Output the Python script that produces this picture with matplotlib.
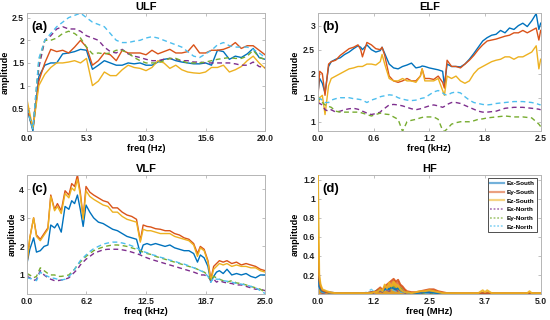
import numpy as np
import matplotlib
matplotlib.use("Agg")
import matplotlib.pyplot as plt
from matplotlib.lines import Line2D

plt.rcParams['font.family'] = ['Liberation Sans', 'DejaVu Sans']
plt.rcParams['font.weight'] = 'bold'

series_names = ["Ex-South", "Ey-South", "Ez-South", "Ex-North", "Ey-North", "Ez-North"]
colors = ["#0072BD", "#D95319", "#EDB120", "#7E2F8E", "#77AC30", "#4DBEEE"]

# ---------------- ULF (Hz) ----------------
ulf_freq = np.linspace(0, 20, 41)
ulf_ex_s = [0.5, 0.0, 1.2, 1.45, 1.5, 1.5, 1.7, 1.72, 1.75, 1.8, 1.78, 1.36, 1.45, 1.55, 1.5, 1.45, 1.45, 1.5, 1.48, 1.5,
            1.45, 1.45, 1.52, 1.58, 1.6, 1.55, 1.52, 1.5, 1.48, 1.48, 1.5, 1.45, 1.78, 1.75, 1.58, 1.65, 1.62, 1.7, 1.82, 1.62, 1.58]
ulf_ey_s = [0.55, 0.05, 1.1, 1.5, 1.8, 1.75, 1.78, 1.72, 1.85, 2.0, 1.85, 1.45, 1.55, 1.72, 1.68, 1.55, 1.78, 1.72, 1.72, 1.72,
            1.68, 1.78, 1.7, 1.75, 1.8, 1.72, 1.72, 1.75, 1.9, 1.72, 1.72, 1.78, 1.78, 1.8, 1.85, 1.95, 1.82, 1.88, 1.88, 1.78, 1.68]
ulf_ez_s = [0.7, 0.05, 1.0, 1.25, 1.4, 1.5, 1.5, 1.52, 1.55, 1.5, 1.6, 1.0, 1.1, 1.3, 1.22, 1.22, 1.35, 1.45, 1.4, 1.38,
            1.33, 1.4, 1.55, 1.5, 1.38, 1.45, 1.35, 1.3, 1.28, 1.27, 1.3, 1.4, 1.4, 1.45, 1.3, 1.35, 1.42, 1.55, 1.65, 1.5, 1.38]
ulf_ex_n = [0.5, 0.05, 1.4, 2.0, 2.1, 2.25, 2.3, 2.25, 2.25, 2.2, 2.1, 2.05, 2.0, 1.85, 1.75, 1.72, 1.8, 1.7, 1.65, 1.62,
            1.58, 1.55, 1.55, 1.58, 1.6, 1.58, 1.55, 1.55, 1.52, 1.52, 1.5, 1.5, 1.5, 1.5, 1.5, 1.48, 1.45, 1.45, 1.52, 1.42, 1.4]
ulf_ey_n = [0.5, 0.05, 1.55, 2.0, 2.0, 2.05, 2.15, 2.2, 2.15, 2.05, 1.85, 1.7, 1.72, 1.7, 1.72, 1.78, 1.78, 1.72, 1.62, 1.55,
            1.5, 1.5, 1.5, 1.55, 1.6, 1.6, 1.55, 1.5, 1.5, 1.5, 1.52, 1.55, 1.58, 1.6, 1.62, 1.6, 1.6, 1.65, 1.78, 1.62, 1.58]
ulf_ez_n = [0.5, 0.05, 1.6, 2.0, 2.15, 2.3, 2.4, 2.5, 2.55, 2.6, 2.5, 2.4, 2.35, 2.3, 2.15, 2.0, 1.95, 1.95, 1.98, 2.0,
            2.05, 2.08, 2.05, 2.0, 1.95, 1.9, 1.85, 1.75, 1.65, 1.62, 1.7, 1.78, 1.9, 1.95, 1.88, 1.85, 1.85, 1.85, 1.8, 1.72, 1.62]
ulf_xticklabels = ["0.0", "5.3", "10.3", "15.6", "20.0"]

# ---------------- ELF (kHz) ----------------
elf_freq = [0, 0.02, 0.05, 0.08, 0.12, 0.15, 0.2, 0.25, 0.3, 0.35, 0.4, 0.45, 0.48, 0.5, 0.55, 0.6, 0.65, 0.7, 0.72, 0.75,
            0.8, 0.85, 0.9, 0.95, 1.0, 1.05, 1.1, 1.15, 1.17, 1.2, 1.25, 1.3, 1.35, 1.4, 1.42, 1.45, 1.5, 1.55, 1.6, 1.65,
            1.7, 1.75, 1.8, 1.85, 1.9, 1.95, 2.0, 2.05, 2.1, 2.15, 2.2, 2.25, 2.3, 2.35, 2.4, 2.45, 2.48, 2.5]
elf_ex_s = [1.6, 1.9, 1.8, 1.6, 2.15, 2.25, 2.3, 2.33, 2.4, 2.45, 2.52, 2.58, 2.55, 2.5, 2.6, 2.5, 2.45, 2.48, 2.55, 2.42,
            2.2, 2.12, 2.1, 2.15, 2.18, 2.22, 2.12, 2.14, 2.16, 2.15, 2.12, 2.1, 2.08, 2.05, 1.75, 2.2, 2.15, 2.15, 2.14, 2.2,
            2.3, 2.42, 2.55, 2.68, 2.75, 2.8, 2.82, 2.9, 2.85, 2.95, 2.92, 3.0, 3.05, 2.98, 3.1, 3.25, 2.92, 3.05]
elf_ey_s = [1.5, 2.05, 2.0, 1.55, 2.2, 2.25, 2.28, 2.38, 2.45, 2.52, 2.55, 2.6, 2.5, 2.35, 2.65, 2.6, 2.52, 2.5, 2.55, 2.38,
            1.95, 1.85, 1.82, 1.85, 1.9, 1.85, 1.85, 1.95, 2.1, 1.9, 1.9, 1.88, 1.95, 1.82, 1.7, 2.28, 2.15, 2.15, 2.12, 2.2,
            2.28, 2.38, 2.5, 2.6, 2.68, 2.7, 2.72, 2.75, 2.78, 2.8, 2.85, 2.85, 2.9, 2.85, 2.9, 2.95, 2.7, 2.9]
elf_ez_s = [1.3, 1.5, 1.55, 1.15, 1.75, 1.9, 1.95, 2.0, 2.05, 2.1, 2.12, 2.15, 2.15, 2.15, 2.2, 2.2, 2.18, 2.25, 2.4, 2.2,
            1.9, 1.85, 1.85, 1.9, 1.85, 1.85, 1.82, 1.95, 2.1, 1.85, 1.85, 1.85, 1.9, 1.65, 1.55, 1.95, 1.9, 1.95, 1.85, 1.8,
            1.85, 2.0, 2.1, 2.15, 2.2, 2.25, 2.28, 2.3, 2.35, 2.35, 2.3, 2.35, 2.35, 2.4, 2.45, 2.58, 2.1, 2.3]
elf_ex_n = [1.4, 1.38, 1.35, 1.25, 1.22, 1.25, 1.2, 1.22, 1.25, 1.27, 1.28, 1.26, 1.24, 1.22, 1.18, 1.15, 1.17, 1.2, 1.24, 1.28,
            1.35, 1.36, 1.35, 1.33, 1.3, 1.27, 1.25, 1.27, 1.28, 1.3, 1.33, 1.35, 1.33, 1.3, 1.32, 1.36, 1.4, 1.4, 1.38, 1.34,
            1.3, 1.26, 1.22, 1.2, 1.2, 1.21, 1.22, 1.25, 1.28, 1.29, 1.3, 1.3, 1.3, 1.29, 1.28, 1.27, 1.26, 1.25]
elf_ey_n = [1.55, 1.45, 1.4, 1.35, 1.32, 1.3, 1.22, 1.2, 1.2, 1.2, 1.2, 1.2, 1.19, 1.18, 1.15, 1.12, 1.15, 1.18, 1.17, 1.16,
            1.15, 1.1, 1.05, 0.8, 1.0, 1.03, 1.05, 1.08, 1.09, 1.1, 1.1, 1.1, 1.05, 0.82, 0.8, 0.85, 0.95, 0.98, 1.0, 1.0,
            1.0, 1.02, 1.05, 1.06, 1.08, 1.09, 1.1, 1.11, 1.12, 1.11, 1.1, 1.1, 1.1, 1.09, 1.08, 1.0, 0.95, 0.9]
elf_ez_n = [1.5, 1.48, 1.45, 1.4, 1.4, 1.45, 1.48, 1.5, 1.5, 1.5, 1.48, 1.47, 1.46, 1.45, 1.4, 1.45, 1.48, 1.52, 1.53, 1.54,
            1.56, 1.55, 1.5, 1.47, 1.45, 1.44, 1.45, 1.48, 1.49, 1.5, 1.56, 1.62, 1.65, 1.6, 1.57, 1.55, 1.6, 1.62, 1.6, 1.52,
            1.45, 1.4, 1.38, 1.36, 1.35, 1.36, 1.38, 1.39, 1.4, 1.41, 1.42, 1.42, 1.42, 1.41, 1.4, 1.38, 1.36, 1.35]
elf_xticklabels = ["0.0", "0.6", "1.2", "1.8", "2.5"]

# ---------------- VLF (kHz) ----------------
vlf_freq = [0, 0.3, 0.7, 1.0, 1.4, 1.8, 2.2, 2.5, 2.9, 3.2, 3.6, 4.0, 4.4, 4.7, 5.0, 5.3, 5.6, 5.9, 6.2, 6.6,
            7.0, 7.5, 8.0, 8.5, 9.0, 9.5, 10.0, 10.5, 11.0, 11.5, 11.9, 12.2, 12.6, 13.0, 13.5, 14.0, 14.5, 15.0, 15.5, 16.0,
            16.5, 17.0, 17.5, 17.9, 18.2, 18.6, 19.0, 19.3, 19.6, 19.9, 20.2, 20.6, 21.0, 21.5, 22.0, 22.5, 23.0, 23.5, 24.0, 24.5,
            25.0]
vlf_ex_s = [1.4, 1.9, 2.3, 1.8, 1.85, 2.0, 2.05, 2.75, 2.65, 2.8, 2.5, 3.4, 3.3, 3.6, 3.5, 3.8, 3.3, 2.7, 3.45, 3.2,
            3.0, 2.85, 2.8, 2.7, 2.6, 2.55, 2.45, 2.35, 2.3, 2.25, 1.75, 2.05, 2.1, 2.05, 2.1, 2.05, 2.0, 2.05, 1.95, 1.9,
            1.85, 1.85, 1.75, 1.45, 1.7, 1.6, 1.3, 0.75, 0.95, 1.1, 1.15, 1.05, 1.2, 1.0, 1.05, 1.0, 1.05, 0.95, 0.9, 1.0,
            1.0]
vlf_ey_s = [1.4, 2.3, 3.0, 2.4, 2.25, 2.45, 2.65, 3.8, 3.3, 3.5, 3.25, 3.95, 3.8, 4.2, 4.1, 4.5, 3.9, 3.0, 4.1, 3.9,
            3.8, 3.7, 3.6, 3.55, 3.35, 3.35, 3.2, 3.1, 3.05, 2.95, 2.2, 2.75, 2.7, 2.68, 2.62, 2.6, 2.55, 2.55, 2.45, 2.4,
            2.3, 2.25, 2.1, 1.75, 2.0, 1.9, 1.5, 0.85, 1.3, 1.4, 1.5, 1.45, 1.5, 1.4, 1.45, 1.35, 1.4, 1.35, 1.3, 1.2,
            1.15]
vlf_ez_s = [1.4, 2.3, 3.0, 2.35, 2.2, 2.4, 2.6, 3.75, 3.25, 3.4, 3.15, 3.85, 3.7, 4.05, 3.95, 4.35, 3.8, 2.95, 3.95, 3.75,
            3.65, 3.55, 3.45, 3.4, 3.2, 3.2, 3.05, 2.95, 2.9, 2.85, 2.15, 2.6, 2.55, 2.55, 2.5, 2.45, 2.45, 2.45, 2.35, 2.3,
            2.25, 2.2, 2.05, 1.65, 1.95, 1.85, 1.45, 0.8, 1.2, 1.3, 1.4, 1.35, 1.4, 1.3, 1.35, 1.3, 1.3, 1.25, 1.25, 1.15,
            1.1]
vlf_ex_n = [0.95, 0.9, 0.8, 0.85, 1.15, 1.0, 0.9, 0.85, 0.8, 0.8, 0.82, 0.85, 0.9, 1.0, 1.1, 1.2, 1.35, 1.45, 1.55, 1.65,
            1.75, 1.82, 1.88, 1.9, 1.9, 1.9, 1.88, 1.85, 1.8, 1.75, 1.7, 1.65, 1.6, 1.55, 1.5, 1.45, 1.4, 1.35, 1.3, 1.25,
            1.2, 1.15, 1.1, 1.05, 1.0, 1.0, 0.95, 0.8, 0.85, 0.75, 0.8, 0.75, 0.72, 0.7, 0.65, 0.65, 0.6, 0.55, 0.5, 0.5,
            0.45]
vlf_ey_n = [1.05, 1.0, 0.9, 0.95, 1.25, 1.15, 1.05, 1.0, 1.0, 0.95, 0.95, 0.97, 1.0, 1.1, 1.2, 1.35, 1.45, 1.55, 1.65, 1.75,
            1.85, 1.92, 1.98, 2.02, 2.05, 2.05, 2.03, 2.0, 1.95, 1.9, 1.85, 1.8, 1.75, 1.72, 1.65, 1.6, 1.55, 1.5, 1.45, 1.4,
            1.35, 1.3, 1.25, 1.2, 1.15, 1.1, 1.0, 0.8, 0.95, 0.9, 0.85, 0.8, 0.75, 0.8, 0.72, 0.7, 0.65, 0.6, 0.55, 0.5,
            0.4]
vlf_ez_n = [0.9, 0.88, 0.85, 0.8, 1.1, 1.0, 0.95, 0.9, 0.88, 0.85, 0.82, 0.85, 0.95, 1.05, 1.2, 1.35, 1.5, 1.6, 1.7, 1.82,
            1.92, 2.0, 2.08, 2.12, 2.15, 2.15, 2.12, 2.08, 2.02, 1.95, 1.88, 1.82, 1.78, 1.72, 1.68, 1.62, 1.58, 1.52, 1.48, 1.42,
            1.38, 1.32, 1.25, 1.22, 1.15, 1.1, 0.95, 0.75, 0.9, 0.85, 0.85, 0.8, 0.78, 0.75, 0.7, 0.68, 0.65, 0.6, 0.55, 0.45,
            0.35]
vlf_xticklabels = ["0.0", "6.2", "12.5", "18.7", "25.0"]

# ---------------- HF (MHz) ----------------
hf_freq = [0, 0.03, 0.06, 0.1, 0.2, 0.3, 0.4, 0.5, 0.6, 0.7, 0.8, 0.9, 1.0, 1.1, 1.2, 1.25, 1.3, 1.35, 1.4, 1.45,
           1.5, 1.55, 1.6, 1.65, 1.7, 1.75, 1.8, 1.85, 1.9, 1.95, 2.0, 2.1, 2.2, 2.3, 2.4, 2.5, 2.6, 2.7, 2.8, 2.9,
           3.0, 3.2, 3.4, 3.6, 3.7, 3.75, 3.8, 3.9, 4.0, 4.2, 4.4, 4.6, 4.7, 4.75, 4.8, 5.0]
hf_ex_s = [0.45, 0.08, 0.05, 0.03, 0.02, 0.015, 0.01, 0.01, 0.01, 0.01, 0.01, 0.01, 0.01, 0.01, 0.02, 0.02, 0.03, 0.04, 0.05, 0.03,
           0.05, 0.06, 0.05, 0.07, 0.06, 0.05, 0.06, 0.04, 0.03, 0.02, 0.02, 0.01, 0.01, 0.015, 0.02, 0.02, 0.015, 0.01, 0.01, 0.01,
           0.01, 0.005, 0.005, 0.005, 0.008, 0.005, 0.005, 0.005, 0.005, 0.005, 0.005, 0.005, 0.005, 0.005, 0.005, 0.005]
hf_ey_s = [0.6, 0.15, 0.08, 0.04, 0.02, 0.015, 0.01, 0.01, 0.01, 0.01, 0.01, 0.01, 0.01, 0.01, 0.02, 0.02, 0.03, 0.05, 0.07, 0.04,
           0.08, 0.1, 0.12, 0.14, 0.16, 0.13, 0.15, 0.1, 0.08, 0.05, 0.03, 0.02, 0.02, 0.03, 0.04, 0.05, 0.05, 0.03, 0.02, 0.01,
           0.01, 0.01, 0.01, 0.01, 0.01, 0.01, 0.01, 0.01, 0.01, 0.01, 0.01, 0.01, 0.01, 0.01, 0.01, 0.01]
hf_ez_s = [1.3, 0.2, 0.1, 0.05, 0.03, 0.015, 0.01, 0.01, 0.01, 0.01, 0.01, 0.01, 0.01, 0.01, 0.01, 0.02, 0.02, 0.03, 0.05, 0.03,
           0.1, 0.06, 0.12, 0.08, 0.13, 0.1, 0.09, 0.05, 0.03, 0.02, 0.02, 0.01, 0.02, 0.03, 0.03, 0.04, 0.03, 0.02, 0.01, 0.01,
           0.01, 0.01, 0.01, 0.01, 0.04, 0.02, 0.04, 0.01, 0.01, 0.01, 0.01, 0.01, 0.01, 0.03, 0.01, 0.01]
hf_ex_n = [0.1, 0.04, 0.02, 0.01, 0.01, 0.005, 0.005, 0.005, 0.005, 0.005, 0.005, 0.005, 0.005, 0.005, 0.01, 0.01, 0.02, 0.02, 0.03, 0.02,
           0.03, 0.04, 0.03, 0.04, 0.05, 0.04, 0.03, 0.02, 0.02, 0.01, 0.01, 0.01, 0.005, 0.01, 0.01, 0.01, 0.01, 0.005, 0.005, 0.005,
           0.005, 0.005, 0.005, 0.005, 0.005, 0.005, 0.005, 0.005, 0.005, 0.005, 0.005, 0.005, 0.005, 0.005, 0.005, 0.005]
hf_ey_n = [0.12, 0.05, 0.03, 0.02, 0.01, 0.01, 0.005, 0.005, 0.005, 0.005, 0.005, 0.005, 0.005, 0.01, 0.01, 0.02, 0.03, 0.04, 0.05, 0.04,
           0.05, 0.06, 0.05, 0.07, 0.08, 0.06, 0.08, 0.07, 0.05, 0.03, 0.02, 0.01, 0.01, 0.01, 0.01, 0.01, 0.01, 0.005, 0.005, 0.005,
           0.005, 0.005, 0.005, 0.005, 0.005, 0.005, 0.005, 0.005, 0.005, 0.005, 0.005, 0.005, 0.005, 0.005, 0.005, 0.005]
hf_ez_n = [0.2, 0.06, 0.03, 0.02, 0.01, 0.01, 0.005, 0.005, 0.005, 0.005, 0.005, 0.005, 0.01, 0.02, 0.05, 0.03, 0.04, 0.05, 0.04, 0.03,
           0.04, 0.05, 0.04, 0.05, 0.04, 0.03, 0.03, 0.02, 0.02, 0.01, 0.01, 0.01, 0.01, 0.01, 0.01, 0.01, 0.005, 0.005, 0.005, 0.005,
           0.005, 0.005, 0.005, 0.005, 0.005, 0.005, 0.005, 0.005, 0.005, 0.005, 0.005, 0.005, 0.005, 0.005, 0.005, 0.005]
hf_xticklabels = ["0.0", "1.2", "2.5", "3.7", "5.0"]

panels = [
    dict(title="ULF", letter="(a)", x=ulf_freq, ys=[ulf_ex_s, ulf_ey_s, ulf_ez_s, ulf_ex_n, ulf_ey_n, ulf_ez_n],
         xmax=20, ylim=(0, 2.6), yticks=[0.5, 1, 1.5, 2, 2.5], ytl=["0.5", "1", "1.5", "2", "2.5"],
         xtl=ulf_xticklabels, xlabel="freq (Hz)", rect=[0.049, 0.591, 0.433, 0.368]),
    dict(title="ELF", letter="(b)", x=elf_freq, ys=[elf_ex_s, elf_ey_s, elf_ez_s, elf_ex_n, elf_ey_n, elf_ez_n],
         xmax=2.5, ylim=(0.81, 3.26), yticks=[1, 1.5, 2, 2.5, 3], ytl=["1", "1.5", "2", "2.5", "3"],
         xtl=elf_xticklabels, xlabel="freq (kHz)", rect=[0.578, 0.591, 0.405, 0.368]),
    dict(title="VLF", letter="(c)", x=vlf_freq, ys=[vlf_ex_s, vlf_ey_s, vlf_ez_s, vlf_ex_n, vlf_ey_n, vlf_ez_n],
         xmax=25, ylim=(0.33, 4.5), yticks=[1, 2, 3, 4], ytl=["1", "2", "3", "4"],
         xtl=vlf_xticklabels, xlabel="freq (kHz)", rect=[0.049, 0.081, 0.433, 0.372]),
    dict(title="HF", letter="(d)", x=hf_freq, ys=[hf_ex_s, hf_ey_s, hf_ez_s, hf_ex_n, hf_ey_n, hf_ez_n],
         xmax=5, ylim=(0, 1.25), yticks=[0.2, 0.4, 0.6, 0.8, 1, 1.2], ytl=["0.2", "0.4", "0.6", "0.8", "1", "1.2"],
         xtl=hf_xticklabels, xlabel="freq (MHz)", rect=[0.578, 0.081, 0.405, 0.372]),
]

fig = plt.figure(figsize=(5.5, 3.2), dpi=100)
frame_col = "#b5b5b5"
for p in panels:
    ax = fig.add_axes(p["rect"])
    hf = p["title"] == "HF"
    for i, (y, c) in enumerate(zip(p["ys"], colors)):
        if i < 3:
            if hf:
                ax.fill_between(p["x"], 0, y, color=c, alpha=0.75, lw=0)
                ax.plot(p["x"], y, color=c, lw=1.4, alpha=0.9, zorder=3)
            else:
                ax.plot(p["x"], y, color=c, lw=1.0)
        else:
            ax.plot(p["x"], y, color=c, lw=1.0, ls=(0, (3.5, 2.5)), alpha=0.8 if hf else 1.0)
    ax.set_xlim(0, p["xmax"])
    ax.set_ylim(*p["ylim"])
    ax.set_xticks(np.linspace(0, p["xmax"], 5))
    ax.set_xticklabels(p["xtl"])
    ax.set_yticks(p["yticks"])
    ax.set_yticklabels(p["ytl"])
    ax.tick_params(direction="in", length=2.5, width=0.6, color=frame_col, labelsize=6.2,
                   top=True, right=True, pad=2, labelcolor="#222222")
    for s in ax.spines.values():
        s.set_color(frame_col)
        s.set_linewidth(0.7)
    for lab in ax.get_xticklabels() + ax.get_yticklabels():
        lab.set_fontweight("bold")
    ax.set_title(p["title"], fontsize=8, fontweight="bold", pad=2)
    ax.set_xlabel(p["xlabel"], fontsize=6.8, fontweight="bold", labelpad=1)
    ax.set_ylabel("amplitude", fontsize=6.6, fontweight="bold", labelpad=2)
    ax.text(0.018, 0.885, p["letter"], transform=ax.transAxes, fontsize=9.5, fontweight="bold",
            ha="left", va="center", zorder=5)
    if hf:
        handles = []
        for i, (n, c) in enumerate(zip(series_names, colors)):
            if i < 3:
                handles.append(Line2D([], [], color=c, lw=1.6, alpha=0.55))
            else:
                handles.append(Line2D([], [], color=c, lw=1.3, ls=(0, (1, 1)), alpha=0.6))
        leg = ax.legend(handles, series_names, loc="upper right", fontsize=4.6, frameon=True,
                        fancybox=False, edgecolor="#333333", framealpha=1, borderaxespad=0.5,
                        handlelength=2.1, handletextpad=0.5, labelspacing=0.5, borderpad=0.4)
        leg.get_frame().set_linewidth(0.6)
        leg.set_zorder(6)
        for t in leg.get_texts():
            t.set_fontweight("bold")

fig.savefig("out.png", dpi=100)
